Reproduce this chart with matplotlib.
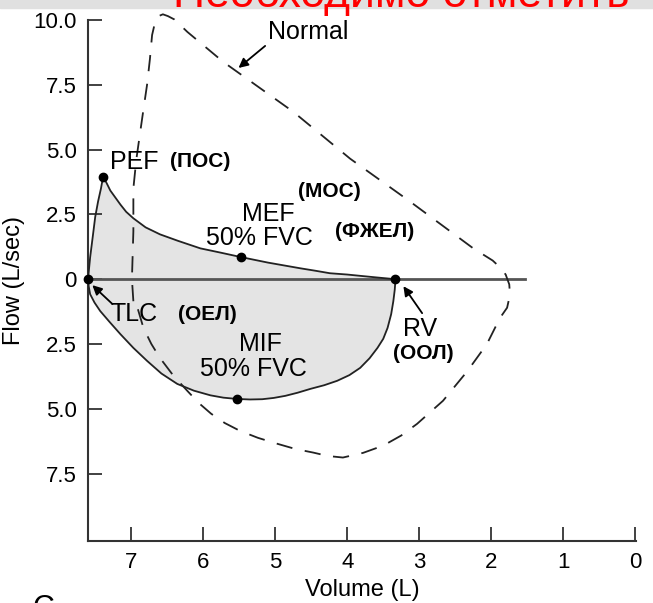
import matplotlib
matplotlib.use("Agg")
import matplotlib.pyplot as plt
from matplotlib.patches import Rectangle

plt.rcParams['font.family'] = ['Liberation Sans', 'DejaVu Sans']

# patient loop (volume L, flow L/s)
exp_vol = [7.60, 7.57, 7.53, 7.50, 7.46, 7.42, 7.39, 7.34, 7.29, 7.22, 7.15, 7.07, 6.97, 6.80,
           6.60, 6.35, 6.04, 5.75, 5.47, 5.10, 4.65, 4.45, 4.24, 4.00, 3.82, 3.60, 3.33]
exp_flow = [0.0, 0.85, 1.73, 2.4, 3.0, 3.5, 3.96, 3.7, 3.42, 3.15, 2.88, 2.6, 2.35, 2.0,
            1.73, 1.48, 1.19, 1.02, 0.85, 0.64, 0.42, 0.33, 0.23, 0.18, 0.13, 0.07, 0.0]
insp_vol = [3.33, 3.34, 3.36, 3.39, 3.44, 3.50, 3.58, 3.69, 3.82, 3.97, 4.14, 4.32, 4.51, 4.69,
            4.86, 5.02, 5.18, 5.35, 5.53, 5.72, 5.90, 6.13, 6.36, 6.58, 6.78, 6.97, 7.15, 7.30,
            7.43, 7.51, 7.57, 7.59, 7.60]
insp_flow = [0.0, -0.4, -0.85, -1.35, -1.88, -2.3, -2.65, -3.05, -3.42, -3.7, -3.92, -4.09, -4.23, -4.38,
             -4.5, -4.58, -4.63, -4.64, -4.62, -4.57, -4.48, -4.3, -4.04, -3.64, -3.15, -2.65, -2.12, -1.65,
             -1.23, -0.9, -0.58, -0.28, 0.0]

# normal loop (dashed)
norm_vol = [6.97, 6.99, 6.97, 6.97, 6.93, 6.88, 6.83, 6.78, 6.74, 6.71, 6.67, 6.62, 6.56, 6.49,
            6.40, 6.22, 5.72, 4.75, 3.96, 3.13, 2.25, 1.98, 1.88, 1.80, 1.75, 1.74, 1.78, 1.88,
            2.06, 2.33, 2.67, 3.03, 3.25, 3.50, 3.78, 4.06, 4.27, 4.47, 4.72, 4.97, 5.24, 5.49,
            5.70, 5.89, 6.06, 6.22, 6.42, 6.60, 6.72, 6.83, 6.94]
norm_flow = [-0.85, 0.0, 1.85, 3.5, 4.6, 5.58, 6.55, 7.5, 8.5, 9.42, 9.9, 10.15, 10.22, 10.15,
             10.02, 9.54, 8.38, 6.46, 4.65, 3.0, 1.19, 0.72, 0.46, 0.18, -0.2, -0.6, -1.1, -1.5,
             -2.5, -3.54, -4.69, -5.58, -6.03, -6.42, -6.7, -6.88, -6.82, -6.69, -6.55, -6.35, -6.12, -5.85,
             -5.55, -5.19, -4.78, -4.31, -3.7, -3.04, -2.5, -1.88, -0.85]

# key points: TLC, PEF, MEF, RV, MIF
pt_vol = [7.60, 7.39, 5.47, 3.33, 5.53]
pt_flow = [0.0, 3.96, 0.85, 0.0, -4.62]

ytick_vals = [10, 7.5, 5, 2.5, 0, -2.5, -5, -7.5]
ytick_labels = ['10.0', '7.5', '5.0', '2.5', '0', '2.5', '5.0', '7.5']
xtick_vals = [7, 6, 5, 4, 3, 2, 1, 0]

W, H = 653, 603
fig = plt.figure(figsize=(W / 100, H / 100), dpi=100)
ax = fig.add_axes([88 / W, 1 - 541 / H, (636 - 88) / W, (541 - 20) / H])

# top banner and stray letter, both cut off in the source
fig.patches.append(Rectangle((0, 1 - 8 / H), 1, 8 / H, transform=fig.transFigure,
                             color='#e0e0e0', zorder=0))
fig.text(173 / W, 1 - 7 / H, 'Необходимо отметить', color='red', fontsize=32,
         va='baseline', ha='left')
fig.text(33 / W, 1 - 594 / H, 'С', color='black', fontsize=22, va='top', ha='left')

line_c = '#222222'
ax.fill(exp_vol + insp_vol, exp_flow + insp_flow, color='#e4e4e4', zorder=1, lw=0)
ax.axhline(0, xmin=0, xmax=(7.60 - 1.53) / 7.61, color='#555555', lw=2.0, zorder=2)
ax.plot(exp_vol, exp_flow, color=line_c, lw=1.3, zorder=3)
ax.plot(insp_vol, insp_flow, color=line_c, lw=1.3, zorder=3)
ax.plot(norm_vol + norm_vol[:1], norm_flow + norm_flow[:1], color=line_c, lw=1.3,
        dashes=(9, 7), zorder=3, clip_on=False)
ax.plot(pt_vol, pt_flow, 'o', color='black', ms=6, zorder=4, clip_on=False)

ax.set_xlim(7.60, -0.01)
ax.set_ylim(-10.1, 10.0)
ax.set_xticks(xtick_vals)
ax.set_yticks(ytick_vals)
ax.set_yticklabels(ytick_labels)
ax.spines['top'].set_visible(False)
ax.spines['right'].set_visible(False)
for s in ['left', 'bottom']:
    ax.spines[s].set_linewidth(1.5)
    ax.spines[s].set_color('#333333')
ax.tick_params(direction='in', length=10, width=1.3, color='#333333', labelsize=16, pad=8)
ax.set_xlabel('Volume (L)', fontsize=17, labelpad=4)
ax.set_ylabel('Flow (L/sec)', fontsize=17, labelpad=6)

tfs = 18
bfs = 15
ax.text(7.29, 4.54, 'PEF', fontsize=tfs, va='center')
ax.text(6.46, 4.54, '(ПОС)', fontsize=bfs, fontweight='bold', va='center')
ax.text(4.69, 3.38, '(МОС)', fontsize=bfs, fontweight='bold', va='center')
ax.text(5.10, 2.5, 'MEF', fontsize=tfs, va='center', ha='center')
ax.text(5.96, 1.58, '50% FVC', fontsize=tfs, va='center')
ax.text(4.17, 1.85, '(ФЖЕЛ)', fontsize=bfs, fontweight='bold', va='center')
ax.text(7.29, -1.35, 'TLC', fontsize=tfs, va='center')
ax.text(6.35, -1.35, '(ОЕЛ)', fontsize=bfs, fontweight='bold', va='center')
ax.text(3.22, -1.92, 'RV', fontsize=tfs, va='center')
ax.text(3.36, -2.85, '(ООЛ)', fontsize=bfs, fontweight='bold', va='center')
ax.text(5.51, -2.5, 'MIF', fontsize=tfs, va='center')
ax.text(6.04, -3.46, '50% FVC', fontsize=tfs, va='center')
ax.text(5.10, 9.54, 'Normal', fontsize=tfs, va='center')

arrow = dict(arrowstyle='-|>', color='black', lw=1.3, mutation_scale=14, shrinkA=0, shrinkB=0)
ax.annotate('', xy=(5.51, 8.15), xytext=(5.14, 9.0), arrowprops=arrow)
ax.annotate('', xy=(7.54, -0.23), xytext=(7.26, -0.96), arrowprops=arrow)
ax.annotate('', xy=(3.22, -0.27), xytext=(2.96, -1.31), arrowprops=arrow)

fig.savefig('out.png', dpi=100)
